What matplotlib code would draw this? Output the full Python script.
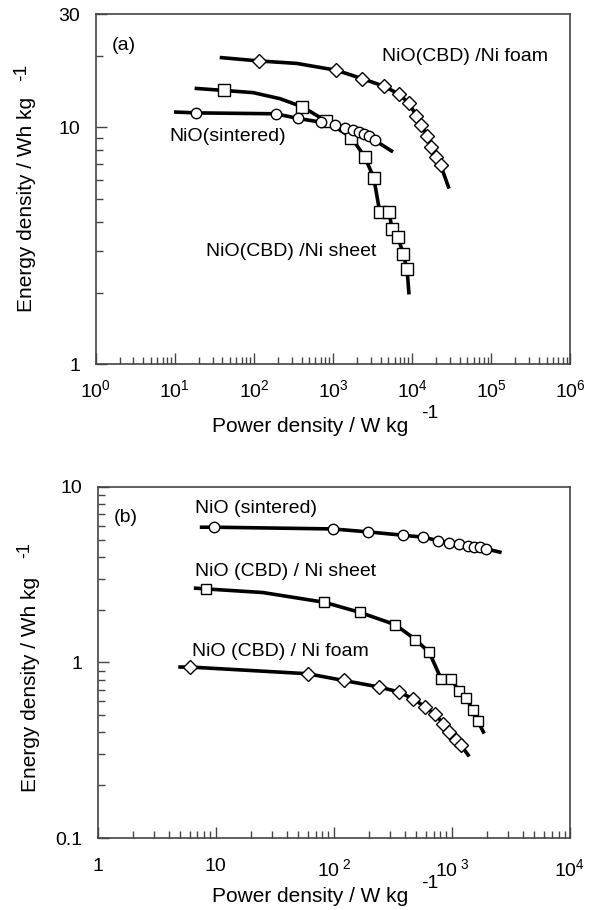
import matplotlib
matplotlib.use("Agg")
import matplotlib.pyplot as plt
from matplotlib.ticker import LogLocator, FixedLocator, FixedFormatter, NullFormatter
import numpy as np

plt.rcParams['font.family'] = ['Liberation Sans', 'DejaVu Sans']
plt.rcParams['mathtext.fontset'] = 'custom'
plt.rcParams['mathtext.rm'] = 'Liberation Sans'
plt.rcParams['mathtext.it'] = 'Liberation Sans:italic'
plt.rcParams['mathtext.default'] = 'regular'

# ---- panel (a) data: power density (W/kg), energy density (Wh/kg)
a_foam_p = [115, 1104, 2326, 4412, 6830, 9135, 11330, 13110, 15600, 17180, 19870, 23000]
a_foam_e = [19.05, 17.4, 16.05, 14.9, 13.8, 12.6, 11.2, 10.2, 9.17, 8.26, 7.50, 6.91]
a_foam_line_p = [37, 347, 29300]      # extra points on the drawn curve (no marker)
a_foam_line_e = [19.7, 18.6, 5.51]

a_sheet_p = [41.9, 410, 826, 1710, 2520, 3270, 3900, 5110, 5580, 6640, 7680, 8630]
a_sheet_e = [14.3, 12.2, 10.6, 9.05, 7.50, 6.13, 4.39, 4.39, 3.71, 3.44, 2.93, 2.52]
a_sheet_line_p = [17.8, 98, 214, 9140]
a_sheet_line_e = [14.6, 14.0, 13.2, 1.97]

a_sint_p = [18.8, 189, 361, 713, 1050, 1405, 1790, 2130, 2470, 2850, 3370]
a_sint_e = [11.5, 11.4, 10.9, 10.5, 10.2, 9.97, 9.71, 9.55, 9.40, 9.16, 8.81]
a_sint_line_p = [9.77, 5740]
a_sint_line_e = [11.6, 7.87]

# ---- panel (b) data
b_sint_p = [9.75, 97.5, 196, 388, 573, 767, 951, 1155, 1361, 1547, 1728, 1942]
b_sint_e = [5.88, 5.75, 5.53, 5.29, 5.16, 4.93, 4.81, 4.71, 4.60, 4.56, 4.53, 4.43]
b_sint_line_p = [7.32, 2636]
b_sint_line_e = [5.88, 4.22]

b_sheet_p = [8.29, 83, 165, 332, 491, 644, 809, 983, 1155, 1316, 1500, 1652]
b_sheet_e = [2.62, 2.20, 1.93, 1.64, 1.35, 1.14, 0.808, 0.808, 0.684, 0.628, 0.539, 0.467]
b_sheet_line_p = [6.52, 25, 1878]
b_sheet_line_e = [2.65, 2.50, 0.394]

b_foam_p = [6.03, 60, 121, 243, 357, 472, 593, 724, 846, 950, 1083, 1194]
b_foam_e = [0.942, 0.863, 0.790, 0.725, 0.679, 0.620, 0.558, 0.507, 0.449, 0.402, 0.361, 0.338]
b_foam_line_p = [4.81, 1403]
b_foam_line_e = [0.942, 0.292]

a_xticks = [1e0, 1e1, 1e2, 1e3, 1e4, 1e5, 1e6]
a_xlabels = [r'$10^0$', r'$10^1$', r'$10^2$', r'$10^3$', r'$10^4$', r'$10^5$', r'$10^6$']
a_yticks = [1, 10, 30]
a_ylabels = ['1', '10', '30']
b_xticks = [1, 10, 100, 1000, 10000]
b_xlabels = ['1', '10', r'$10^{\ 2}$', r'$10^{\ 3}$', r'$10^4$']
b_yticks = [0.1, 1, 10]
b_ylabels = ['0.1', '1', '10']

AX_COLOR = '#444444'
W, H = 597, 910


def curve(ax, p, e, line_p, line_e, marker, ms):
    pts = sorted(zip(list(p) + list(line_p), list(e) + list(line_e)))
    ax.plot([q[0] for q in pts], [q[1] for q in pts], '-', color='black',
            lw=2.6, zorder=2, solid_capstyle='butt', solid_joinstyle='round')
    ax.plot(p, e, linestyle='none', marker=marker, ms=ms, mfc='white',
            mec='black', mew=1.0, zorder=3)


def style(ax, xpad):
    for s in ax.spines.values():
        s.set_color(AX_COLOR)
        s.set_linewidth(1.2)
    ax.tick_params(which='both', direction='in', colors=AX_COLOR,
                   labelcolor='black', labelsize=14, top=False, right=False)
    ax.tick_params(which='major', length=8, width=1.0)
    ax.tick_params(which='minor', length=5, width=1.0)
    ax.tick_params(axis='x', which='major', pad=xpad)
    ax.tick_params(axis='y', which='major', pad=11)


def ftext(px, py, s, **kw):
    fig.text(px / W, 1 - py / H, s, **kw)


fig = plt.figure(figsize=(W / 100, H / 100), dpi=100)

# ---------------- panel (a)
ax1 = fig.add_axes([0.1603, 0.5997, 0.795, 0.3847])
ax1.set_xscale('log')
ax1.set_yscale('log')
curve(ax1, a_foam_p, a_foam_e, a_foam_line_p, a_foam_line_e, 'D', 7.5)
curve(ax1, a_sheet_p, a_sheet_e, a_sheet_line_p, a_sheet_line_e, 's', 8)
curve(ax1, a_sint_p, a_sint_e, a_sint_line_p, a_sint_line_e, 'o', 7.5)
ax1.set_xlim(1, 1e6)
ax1.set_ylim(1, 30)
ax1.xaxis.set_major_locator(FixedLocator(a_xticks))
ax1.xaxis.set_major_formatter(FixedFormatter(a_xlabels))
ax1.xaxis.set_minor_locator(LogLocator(base=10, subs=np.arange(2, 10), numticks=20))
ax1.xaxis.set_minor_formatter(NullFormatter())
ax1.yaxis.set_major_locator(FixedLocator(a_yticks))
ax1.yaxis.set_major_formatter(FixedFormatter(a_ylabels))
ax1.yaxis.set_minor_locator(FixedLocator([2, 3, 4, 5, 6, 7, 8, 9, 20]))
ax1.yaxis.set_minor_formatter(NullFormatter())
style(ax1, 11)

ax1.text(0.034, 0.912, '(a)', transform=ax1.transAxes, fontsize=14, va='center')
ax1.text(0.603, 0.879, 'NiO(CBD) /Ni foam', transform=ax1.transAxes, fontsize=14, va='center')
ax1.text(0.155, 0.652, 'NiO(sintered)', transform=ax1.transAxes, fontsize=14, va='center')
ax1.text(0.232, 0.322, 'NiO(CBD) /Ni sheet', transform=ax1.transAxes, fontsize=14, va='center')

# axis titles with detached "-1" superscripts
ftext(212, 426, 'Power density / W kg', fontsize=15, ha='left', va='center')
ftext(430, 414, '-1', fontsize=14, ha='center', va='center')
ftext(27, 312, 'Energy density / Wh kg', fontsize=15, rotation=90, ha='center', va='bottom')
ftext(22, 72, '-1', fontsize=14, rotation=90, ha='center', va='center')

# ---------------- panel (b)
ax2 = fig.add_axes([0.1637, 0.0788, 0.791, 0.3864])
ax2.set_xscale('log')
ax2.set_yscale('log')
curve(ax2, b_sint_p, b_sint_e, b_sint_line_p, b_sint_line_e, 'o', 7.5)
curve(ax2, b_sheet_p, b_sheet_e, b_sheet_line_p, b_sheet_line_e, 's', 7.5)
curve(ax2, b_foam_p, b_foam_e, b_foam_line_p, b_foam_line_e, 'D', 7)
ax2.set_xlim(1, 1e4)
ax2.set_ylim(0.1, 10)
ax2.xaxis.set_major_locator(FixedLocator(b_xticks))
ax2.xaxis.set_major_formatter(FixedFormatter(b_xlabels))
ax2.xaxis.set_minor_locator(LogLocator(base=10, subs=np.arange(2, 10), numticks=20))
ax2.xaxis.set_minor_formatter(NullFormatter())
ax2.yaxis.set_major_locator(FixedLocator(b_yticks))
ax2.yaxis.set_major_formatter(FixedFormatter(b_ylabels))
ax2.yaxis.set_minor_locator(LogLocator(base=10, subs=np.arange(2, 10), numticks=20))
ax2.yaxis.set_minor_formatter(NullFormatter())
style(ax2, 14)

ax2.text(0.033, 0.913, '(b)', transform=ax2.transAxes, fontsize=14, va='center')
ax2.text(0.206, 0.939, 'NiO (sintered)', transform=ax2.transAxes, fontsize=14, va='center')
ax2.text(0.206, 0.758, 'NiO (CBD) / Ni sheet', transform=ax2.transAxes, fontsize=14, va='center')
ax2.text(0.200, 0.531, 'NiO (CBD) / Ni foam', transform=ax2.transAxes, fontsize=14, va='center')

ftext(212, 897, 'Power density / W kg', fontsize=15, ha='left', va='center')
ftext(430, 884, '-1', fontsize=14, ha='center', va='center')
ftext(31, 792, 'Energy density / Wh kg', fontsize=15, rotation=90, ha='center', va='bottom')
ftext(25, 550, '-1', fontsize=13, rotation=90, ha='center', va='center')

fig.savefig('out.png', dpi=100)
